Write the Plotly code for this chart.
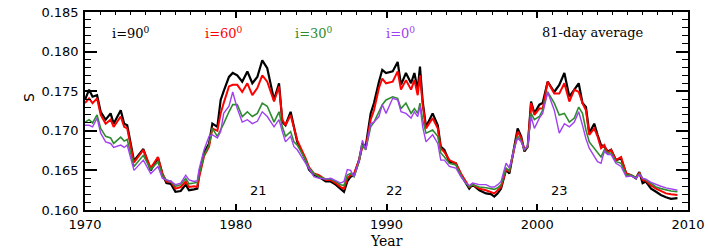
import plotly.graph_objects as go

# ---- data ----
years_a = [1970.0, 1970.27, 1970.5, 1970.8, 1971.04, 1971.37, 1971.7, 1971.9, 1972.37, 1972.6, 1972.8,
           1973.25, 1973.87, 1974.36, 1974.84, 1975.13, 1975.4, 1975.7, 1976.0, 1976.35, 1976.68, 1976.9,
           1977.23, 1977.45, 1977.56, 1977.9, 1978.23, 1978.45, 1978.78, 1979.0, 1979.2, 1979.55, 1979.8]
years_b = [1980.1, 1980.43, 1980.77, 1981.1, 1981.43, 1981.76, 1982.09, 1982.54, 1982.87, 1983.09, 1983.3,
           1983.64, 1983.86, 1984.08, 1984.64, 1984.86, 1985.19, 1985.52, 1985.97, 1986.3, 1986.63, 1986.96,
           1987.18, 1987.4, 1987.62, 1987.85, 1988.18, 1988.4, 1988.62, 1988.95, 1989.17, 1989.5, 1989.72, 1989.97]
years_c = [1990.41, 1990.74, 1990.96, 1991.29, 1991.63, 1991.85, 1992.07, 1992.22, 1992.4, 1992.62, 1993.06,
           1993.4, 1993.6, 1993.84, 1994.17, 1994.6, 1994.94, 1995.27, 1995.49, 1995.71, 1996.16, 1996.6,
           1996.93, 1997.15, 1997.38, 1997.6, 1997.93, 1998.15, 1998.48, 1998.7, 1998.93, 1999.15, 1999.37,
           1999.59, 1999.81]
years_d = [2000.14, 2000.36, 2000.69, 2001.13, 2001.46, 2001.8, 2002.13, 2002.46, 2002.75, 2003.0, 2003.23,
           2003.45, 2003.78, 2004.0, 2004.23, 2004.45, 2004.67, 2004.9, 2005.22, 2005.56, 2005.9, 2006.22,
           2006.55, 2006.77, 2006.99, 2007.2, 2007.55, 2007.88, 2008.2, 2008.54, 2008.87, 2009.3]
years = years_a + years_b + years_c + years_d

s_i90 = [0.1739, 0.1752, 0.1743, 0.1745, 0.1724, 0.1714, 0.1722, 0.1709, 0.1726, 0.1709, 0.1707,
         0.1662, 0.1677, 0.1650, 0.1666, 0.1646, 0.1634, 0.1633, 0.1623, 0.1624, 0.1632, 0.1625,
         0.1626, 0.1627, 0.1644, 0.1672, 0.1684, 0.1709, 0.1705, 0.1739, 0.1750, 0.1768, 0.1773,
         0.1770, 0.1762, 0.1775, 0.1760, 0.1768, 0.1789, 0.1779, 0.1739, 0.1760, 0.1711, 0.1707,
         0.1724, 0.1705, 0.1686, 0.1663, 0.1651, 0.1644, 0.1642, 0.1636, 0.1636, 0.1632, 0.1626,
         0.1623, 0.1636, 0.1642, 0.1644, 0.1663, 0.1684, 0.1680, 0.1722, 0.1735, 0.1762, 0.1777, 0.1773,
         0.1775, 0.1787, 0.1758, 0.1773, 0.1760, 0.1773, 0.1752, 0.1781, 0.1737, 0.1705, 0.1722,
         0.1707, 0.1680, 0.1676, 0.1661, 0.1659, 0.1644, 0.1634, 0.1627, 0.1632, 0.1625, 0.1621,
         0.1620, 0.1617, 0.1621, 0.1627, 0.1651, 0.1646, 0.1680, 0.1703, 0.1693, 0.1674, 0.1680,
         0.1737, 0.1722,
         0.1733, 0.1735, 0.1762, 0.1749, 0.1758, 0.1773, 0.1743, 0.1752, 0.1760, 0.1735, 0.1730,
         0.1697, 0.1709, 0.1695, 0.1682, 0.1680, 0.1674, 0.1676, 0.1663, 0.1665, 0.1646, 0.1644,
         0.1640, 0.1648, 0.1634, 0.1636, 0.1627, 0.1623, 0.1619, 0.1616, 0.1614, 0.1615]

s_i60 = [0.1735, 0.1741, 0.1735, 0.1741, 0.1720, 0.1709, 0.1714, 0.1705, 0.1718, 0.1705, 0.1703,
         0.1660, 0.1676, 0.1653, 0.1667, 0.1646, 0.1636, 0.1636, 0.1627, 0.1629, 0.1636, 0.1629,
         0.1630, 0.1629, 0.1640, 0.1668, 0.1680, 0.1703, 0.1700, 0.1722, 0.1735, 0.1756, 0.1758,
         0.1758, 0.1749, 0.1760, 0.1745, 0.1754, 0.1770, 0.1762, 0.1737, 0.1756, 0.1714, 0.1707,
         0.1720, 0.1703, 0.1688, 0.1665, 0.1654, 0.1646, 0.1644, 0.1638, 0.1638, 0.1634, 0.1629,
         0.1627, 0.1640, 0.1644, 0.1646, 0.1663, 0.1680, 0.1678, 0.1714, 0.1726, 0.1754, 0.1766, 0.1760,
         0.1762, 0.1775, 0.1752, 0.1764, 0.1752, 0.1764, 0.1745, 0.1770, 0.1733, 0.1703, 0.1716,
         0.1703, 0.1678, 0.1673, 0.1663, 0.1659, 0.1646, 0.1636, 0.1629, 0.1632, 0.1627, 0.1625,
         0.1623, 0.1621, 0.1625, 0.1629, 0.1651, 0.1649, 0.1678, 0.1699, 0.1691, 0.1676, 0.1680,
         0.1735, 0.1720,
         0.1728, 0.1728, 0.1762, 0.1747, 0.1747, 0.1760, 0.1737, 0.1752, 0.1749, 0.1735, 0.1726,
         0.1695, 0.1703, 0.1693, 0.1678, 0.1682, 0.1672, 0.1676, 0.1663, 0.1667, 0.1646, 0.1644,
         0.1641, 0.1647, 0.1638, 0.1637, 0.1631, 0.1627, 0.1624, 0.1621, 0.1620, 0.1619]

s_i30 = [0.1711, 0.1714, 0.1710, 0.1720, 0.1703, 0.1693, 0.1691, 0.1684, 0.1692, 0.1687, 0.1689,
         0.1655, 0.1669, 0.1651, 0.1661, 0.1644, 0.1638, 0.1636, 0.1630, 0.1632, 0.1640, 0.1633,
         0.1634, 0.1635, 0.1644, 0.1669, 0.1682, 0.1703, 0.1693, 0.1701, 0.1709, 0.1724, 0.1733,
         0.1733, 0.1718, 0.1724, 0.1718, 0.1722, 0.1735, 0.1731, 0.1711, 0.1724, 0.1705, 0.1693,
         0.1699, 0.1686, 0.1682, 0.1663, 0.1653, 0.1646, 0.1642, 0.1639, 0.1639, 0.1636, 0.1632,
         0.1631, 0.1644, 0.1646, 0.1642, 0.1661, 0.1682, 0.1676, 0.1705, 0.1711, 0.1724, 0.1733, 0.1739,
         0.1743, 0.1741, 0.1728, 0.1735, 0.1722, 0.1728, 0.1722, 0.1735, 0.1714, 0.1697, 0.1701,
         0.1693, 0.1672, 0.1667, 0.1659, 0.1657, 0.1644, 0.1634, 0.1629, 0.1632, 0.1629, 0.1628,
         0.1627, 0.1626, 0.1628, 0.1632, 0.1653, 0.1649, 0.1680, 0.1693, 0.1688, 0.1676, 0.1680,
         0.1722, 0.1714,
         0.1718, 0.1726, 0.1749, 0.1735, 0.1720, 0.1722, 0.1711, 0.1716, 0.1730, 0.1722, 0.1701,
         0.1686, 0.1678, 0.1674, 0.1667, 0.1676, 0.1672, 0.1672, 0.1661, 0.1659, 0.1644, 0.1644,
         0.1641, 0.1646, 0.1640, 0.1638, 0.1633, 0.1629, 0.1627, 0.1625, 0.1624, 0.1623]

s_i0 = [0.1707, 0.1707, 0.1705, 0.1716, 0.1697, 0.1686, 0.1684, 0.1679, 0.1682, 0.1679, 0.1682,
        0.1650, 0.1663, 0.1646, 0.1655, 0.1640, 0.1638, 0.1636, 0.1632, 0.1634, 0.1644, 0.1638,
        0.1636, 0.1637, 0.1651, 0.1676, 0.1693, 0.1695, 0.1691, 0.1699, 0.1722, 0.1731, 0.1749,
        0.1728, 0.1711, 0.1714, 0.1709, 0.1712, 0.1724, 0.1718, 0.1705, 0.1714, 0.1699, 0.1686,
        0.1693, 0.1680, 0.1676, 0.1659, 0.1651, 0.1642, 0.1640, 0.1639, 0.1640, 0.1637, 0.1634,
        0.1636, 0.1651, 0.1650, 0.1642, 0.1663, 0.1688, 0.1676, 0.1709, 0.1711, 0.1718, 0.1733, 0.1722,
        0.1741, 0.1739, 0.1724, 0.1722, 0.1716, 0.1724, 0.1718, 0.1731, 0.1705, 0.1686, 0.1695,
        0.1684, 0.1663, 0.1663, 0.1655, 0.1653, 0.1642, 0.1634, 0.1631, 0.1634, 0.1632, 0.1632,
        0.1629, 0.1629, 0.1632, 0.1636, 0.1659, 0.1653, 0.1678, 0.1691, 0.1686, 0.1676, 0.1682,
        0.1718, 0.1703,
        0.1716, 0.1722, 0.1749, 0.1726, 0.1697, 0.1709, 0.1705, 0.1711, 0.1724, 0.1707, 0.1690,
        0.1678, 0.1667, 0.1661, 0.1659, 0.1674, 0.1670, 0.1670, 0.1659, 0.1655, 0.1642, 0.1643,
        0.1640, 0.1645, 0.1640, 0.1639, 0.1635, 0.1632, 0.1630, 0.1628, 0.1627, 0.1625]

x_ticks = [1970, 1980, 1990, 2000, 2010]
y_ticks = [0.160, 0.165, 0.170, 0.175, 0.180, 0.185]
series_labels = ["i=90<sup>0</sup>", "i=60<sup>0</sup>", "i=30<sup>0</sup>", "i=0<sup>0</sup>"]
cycle_labels = ["21", "22", "23"]

# ---- styles ----
colors = ["#000000", "#ff0000", "#2e8b2e", "#a040f0"]
widths = [2.2, 2.0, 1.6, 1.4]

fig = go.Figure()
for ys, c, w in zip([s_i90, s_i60, s_i30, s_i0], colors, widths):
    fig.add_trace(go.Scatter(x=years, y=ys, mode="lines",
                             line=dict(color=c, width=w), showlegend=False, hoverinfo="skip"))

serif = "DejaVu Serif"
sans = "DejaVu Sans"

label_x = [1973.05, 1979.22, 1985.19, 1990.96]
for txt, c, xx in zip(series_labels, colors, label_x):
    fig.add_annotation(x=xx, y=0.1824, xref="x", yref="y", text=txt, showarrow=False,
                       font=dict(family=serif, size=13, color=c))
fig.add_annotation(x=2003.7, y=0.1824, xref="x", yref="y", text="81-day average", showarrow=False,
                   font=dict(family=serif, size=13, color="black"))

cycle_x = [1981.48, 1990.5, 2001.5]
for txt, xx in zip(cycle_labels, cycle_x):
    fig.add_annotation(x=xx, y=0.1624, xref="x", yref="y", text=txt, showarrow=False,
                       font=dict(family=sans, size=13, color="black"))

fig.add_annotation(x=0.5, y=0, xref="paper", yref="paper", yshift=-31, text="Year",
                   showarrow=False, yanchor="middle",
                   font=dict(family=serif, size=14, color="black"))
fig.add_annotation(x=0, y=0.566, xref="paper", yref="paper", xshift=-56, text="S",
                   showarrow=False, textangle=-90, xanchor="center", yanchor="middle",
                   font=dict(family=sans, size=14, color="black"))

fig.update_layout(
    width=708, height=248,
    margin=dict(l=85, r=20, t=12, b=38, autoexpand=False),
    paper_bgcolor="white", plot_bgcolor="white",
    xaxis=dict(range=[1970, 2010], tickvals=x_ticks, ticktext=[str(v) for v in x_ticks],
               ticks="inside", ticklen=6, tickwidth=1.5, tickcolor="black",
               minor=dict(dtick=1, tick0=1970, ticks="inside", ticklen=3, tickwidth=1, tickcolor="black"),
               mirror="allticks", showline=True, linecolor="black", linewidth=1.6,
               showgrid=False, zeroline=False, automargin=False, ticklabelstandoff=2,
               ticklabeloverflow="allow",
               tickfont=dict(family=sans, size=13, color="black")),
    yaxis=dict(range=[0.160, 0.185], tickvals=y_ticks, ticktext=[f"{v:.3f}" for v in y_ticks],
               ticks="inside", ticklen=12, tickwidth=1.5, tickcolor="black",
               minor=dict(dtick=0.001, tick0=0.160, ticks="inside", ticklen=6, tickwidth=1, tickcolor="black"),
               mirror="allticks", showline=True, linecolor="black", linewidth=1.6,
               showgrid=False, zeroline=False, automargin=False, ticklabelstandoff=2,
               ticklabeloverflow="allow",
               tickfont=dict(family=sans, size=13, color="black")),
)

# remove the default 8px page margin so the figure sits at the window's top-left corner
fig.write_html("out.html", config={"displayModeBar": False},
               post_script="document.body.style.margin='0px';")
